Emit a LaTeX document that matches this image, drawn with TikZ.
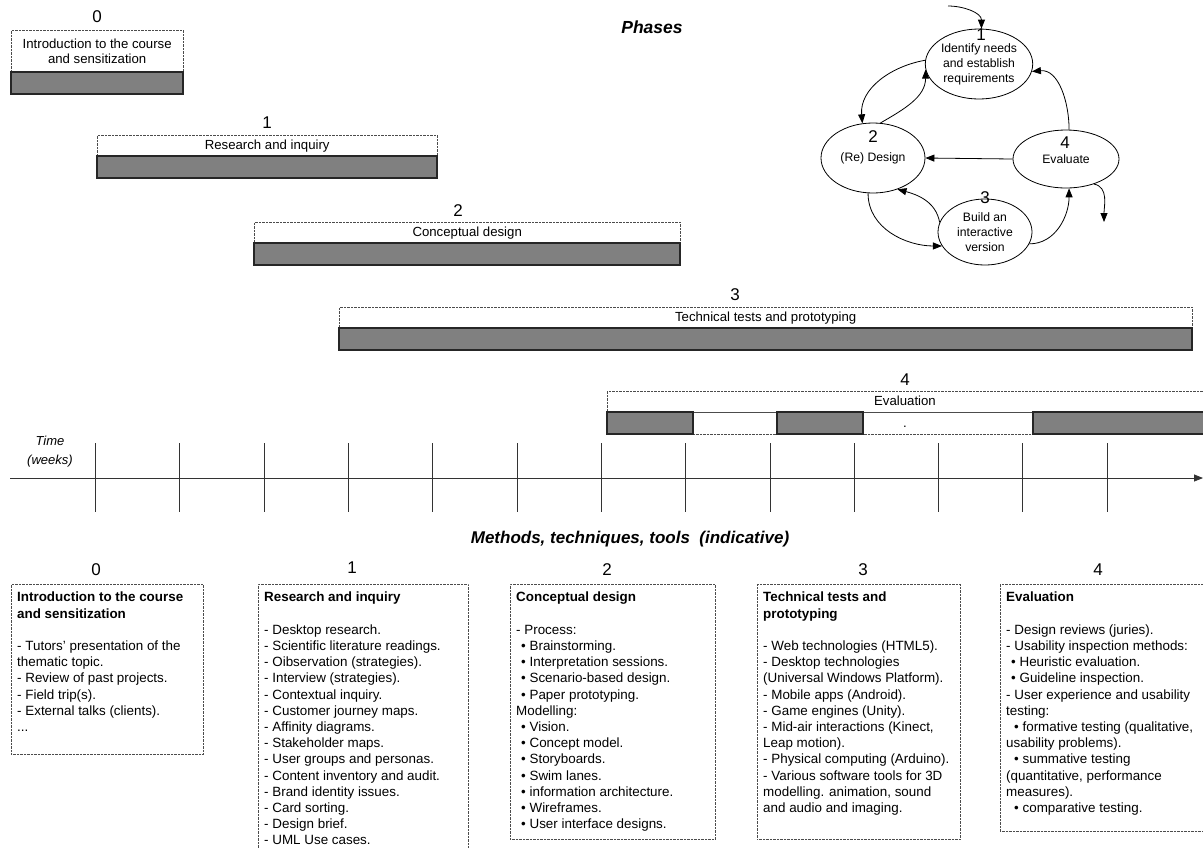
\documentclass[tikz,border=0pt]{standalone}
\usepackage{fontspec}
\setmainfont{Liberation Sans}
\usetikzlibrary{shapes.geometric,arrows.meta}

\tikzstyle{every node}=[font=\fontsize{13.2pt}{15pt}\selectfont]
\tikzstyle{labelbox}=[draw=black!70, densely dotted, inner sep=0pt, anchor=north west]
\tikzstyle{phasebar}=[draw=black!85, line width=1.1pt, fill=black!50]
\tikzstyle{phasenum}=[font=\fontsize{17pt}{20pt}\selectfont]
\tikzstyle{stage}=[draw, ellipse, inner sep=0pt, align=center, line width=0.8pt, font=\fontsize{12.2pt}{15pt}\selectfont]
\tikzstyle{flow}=[-{Triangle[length=9pt,width=7pt]}, line width=0.8pt]
\tikzstyle{methtext}=[anchor=north west, align=left, inner sep=0pt, font=\fontsize{13.4pt}{16.2pt}\selectfont]

\newcommand{\bul}{\hspace*{5pt}\textbullet\ }

\begin{document}
\begin{tikzpicture}[x=1pt, y=-1pt]
		            \useasboundingbox (0,0) rectangle (1203,847);

		            % Titles
		            \node[font=\bfseries\itshape\fontsize{17.5pt}{20pt}\selectfont] (phases) at (652,27) {Phases};
		            \node[font=\bfseries\itshape\fontsize{17pt}{20pt}\selectfont] (methods) at (630,539) {Methods, techniques, tools\ \ (indicative)};

		            % Phase 0
		            \node[labelbox, minimum width=172, minimum height=42] (p0) at (11,30) {};
		            \node[align=center] (t0) at (p0.center) {Introduction to the course\\and sensitization};
		            \node[phasenum] (n0) at (97,17) {0};
		            \draw[phasebar] (11,72) rectangle (183,94);

		            % Phase 1
		            \node[labelbox, minimum width=340, minimum height=21] (p1) at (97,135) {};
		            \node (t1) at (p1.center) {Research and inquiry};
		            \node[phasenum] (n1) at (267,123) {1};
		            \draw[phasebar] (97,156) rectangle (437,178);

		            % Phase 2
		            \node[labelbox, minimum width=426, minimum height=21] (p2) at (254,222) {};
		            \node (t2) at (p2.center) {Conceptual design};
		            \node[phasenum] (n2) at (458,211) {2};
		            \draw[phasebar] (254,243) rectangle (680,265);

		            % Phase 3
		            \node[labelbox, minimum width=853, minimum height=21] (p3) at (339,307) {};
		            \node (t3) at (p3.center) {Technical tests and prototyping};
		            \node[phasenum] (n3) at (735,295) {3};
		            \draw[phasebar] (339,328) rectangle (1192,350);

		            % Phase 4 (interrupted bar)
		            \node[labelbox, minimum width=603, minimum height=21] (p4) at (607,391) {};
		            \node (t4) at (905,401) {Evaluation};
		            \node[phasenum] (n4) at (905,380) {4};
		            \draw[black!70, densely dotted] (607,412) rectangle (1210,434);
		            \draw[phasebar] (607,412) rectangle (693,434);
		            \draw[phasebar] (777,412) rectangle (863,434);
		            \draw[phasebar] (1033,412) rectangle (1210,434);
		            \node[inner sep=0pt] (dot4) at (905,427) {.};

		            % Time axis
		            \draw[-{Triangle[length=9pt,width=7pt]}, line width=0.8pt, black!80] (10,478) -- (1203,478);
		            \foreach \i in {0,...,12}
		                \draw[line width=0.8pt, black!80] (95.5+84.3*\i,443) -- (95.5+84.3*\i,512);
		            \node[align=center, font=\itshape\fontsize{13pt}{19pt}\selectfont] (time) at (50,452) {Time\\(weeks)};

		            % Cycle
		            \node[stage, minimum width=106, minimum height=70] (e1) at (979,64) {Identify needs\\and establish\\requirements};
		            \node[stage, minimum width=104, minimum height=70] (e2) at (873,158) {(Re) Design};
		            \node[stage, minimum width=94, minimum height=66] (e3) at (985,232) {Build an\\interactive\\version};
		            \node[stage, minimum width=106, minimum height=58] (e4) at (1066,159) {Evaluate};
		            \node[phasenum] (c1) at (981,35) {1};
		            \node[phasenum] (c2) at (873,137) {2};
		            \node[phasenum] (c3) at (985,198) {3};
		            \node[phasenum] (c4) at (1065,143) {4};

		            \coordinate (start) at (948,6);
		            \coordinate (finish) at (1104,222);
		            \draw[flow] (start) to[out=0, in=90] (e1.86);
		            \draw[flow] (e1.176) to[out=190, in=95] (e2.107);
		            \draw[flow] (e2.78) to[out=30, in=270] (e1.186);
		            \draw[flow] (e4.west) -- (e2.east);
		            \draw[flow] (e4.84) to[out=90, in=5] (e1.352);
		            \draw[flow] (e2.262) to[out=270, in=180] (e3.198);
		            \draw[flow] (e3.168) to[out=100, in=-15] (e2.308);
		            \draw[flow] (e3.345) to[out=0, in=270] (e4.276);
		            \draw[flow] (e4.318) to[out=-10, in=90] (finish);

		            % Methods boxes
		            \node[labelbox, minimum width=192, minimum height=170] (m0) at (11,584) {};
		            \node[phasenum] (k0) at (96,570) {0};
		            \node[methtext] (mt0) at ([shift={(6,8)}]m0.north west) {\textbf{Introduction to the course}\\\textbf{and sensitization}\\\mbox{}\\- Tutors' presentation of the\\thematic topic.\\- Review of past projects.\\- Field trip(s).\\- External talks (clients).\\...};

		            \node[labelbox, minimum width=210, minimum height=280] (m1) at (258,584) {};
		            \node[phasenum] (k1) at (352,568) {1};
		            \node[methtext] (mt1) at ([shift={(6,8)}]m1.north west) {\textbf{Research and inquiry}\\\mbox{}\\- Desktop research.\\- Scientific literature readings.\\- Oibservation (strategies).\\- Interview (strategies).\\- Contextual inquiry.\\- Customer journey maps.\\- Affinity diagrams.\\- Stakeholder maps.\\- User groups and personas.\\- Content inventory and audit.\\- Brand identity issues.\\- Card sorting.\\- Design brief.\\- UML Use cases.};

		            \node[labelbox, minimum width=205, minimum height=255] (m2) at (510,584) {};
		            \node[phasenum] (k2) at (607,570) {2};
		            \node[methtext] (mt2) at ([shift={(6,8)}]m2.north west) {\textbf{Conceptual design}\\\mbox{}\\- Process:\\\bul Brainstorming.\\\bul Interpretation sessions.\\\bul Scenario-based design.\\\bul Paper prototyping.\\Modelling:\\\bul Vision.\\\bul Concept model.\\\bul Storyboards.\\\bul Swim lanes.\\\bul information architecture.\\\bul Wireframes.\\\bul User interface designs.};

		            \node[labelbox, minimum width=203, minimum height=255] (m3) at (757,584) {};
		            \node[phasenum] (k3) at (863,570) {3};
		            \node[methtext] (mt3) at ([shift={(6,8)}]m3.north west) {\textbf{Technical tests and}\\\textbf{prototyping}\\\mbox{}\\- Web technologies (HTML5).\\- Desktop technologies\\(Universal Windows Platform).\\- Mobile apps (Android).\\- Game engines (Unity).\\- Mid-air interactions (Kinect,\\Leap motion).\\- Physical computing (Arduino).\\- Various software tools for 3D\\modelling. animation, sound\\and audio and imaging.};

		            \node[labelbox, minimum width=210, minimum height=247] (m4) at (1000,584) {};
		            \node[phasenum] (k4) at (1098,570) {4};
		            \node[methtext] (mt4) at ([shift={(6,8)}]m4.north west) {\textbf{Evaluation}\\\mbox{}\\- Design reviews (juries).\\- Usability inspection methods:\\\bul Heuristic evaluation.\\\bul Guideline inspection.\\- User experience and usability\\testing:\\\hspace*{3pt}\bul formative testing (qualitative,\\usability problems).\\\hspace*{3pt}\bul summative testing\\(quantitative, performance\\measures).\\\hspace*{3pt}\bul comparative testing.};
\end{tikzpicture}
\end{document}
